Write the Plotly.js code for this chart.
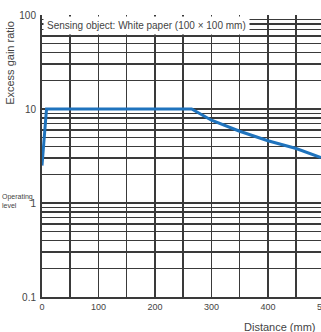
<!DOCTYPE html>
<html><head><meta charset="utf-8">
<script src="https://cdn.plot.ly/plotly-3.0.1.min.js"></script>
<style>html,body{margin:0;padding:0;background:#fff;overflow:hidden}</style>
</head><body>
<div id="chart" style="width:321px;height:332px"></div>
<script>
// Data
const distance = [0, 8, 265, 300, 350, 400, 450, 494];
const gainRatio = [2.5, 10, 10, 7.6, 5.8, 4.6, 3.8, 3.05];

const xTickVals = [0, 50, 100, 150, 200, 250, 300, 350, 400, 450, 500];
const xTickText = ['0', '', '100', '', '200', '', '300', '', '400', '', '500'];

const yTickVals = [0.1,0.2,0.3,0.4,0.5,0.6,0.7,0.8,0.9,
                   1,2,3,4,5,6,7,8,9,
                   10,20,30,40,50,60,70,80,90,100];
const yTickText = ['0.1','','','','','','','','',
                   '1','','','','','','','','',
                   '10','','','','','','','','',
                   '100'];

const xMax = 494;
const gridColor = '#3a3a3a';
const textColor = '#444';

const trace = {
  x: distance, y: gainRatio, type: 'scatter', mode: 'lines',
  line: {color: '#1f73bd', width: 3},
  hoverinfo: 'skip'
};

const layout = {
  width: 321, height: 332,
  margin: {l: 42, r: 0, t: 15, b: 35},
  paper_bgcolor: '#fff', plot_bgcolor: '#fff',
  showlegend: false,
  font: {family: 'Liberation Sans, Arial, sans-serif', color: textColor, size: 10},
  xaxis: {
    range: [0, xMax], tickvals: xTickVals, ticktext: xTickText,
    showgrid: true, gridcolor: gridColor, gridwidth: 1.5,
    zeroline: false, showline: true, linecolor: gridColor, linewidth: 2,
    ticks: '', tickfont: {size: 9, color: textColor}, fixedrange: true
  },
  yaxis: {
    type: 'log', range: [-1, 2], tickvals: yTickVals, ticktext: yTickText,
    showgrid: true, gridcolor: gridColor, gridwidth: 1.5,
    zeroline: false, showline: true, linecolor: gridColor, linewidth: 2,
    ticks: '', ticklabelstandoff: 2, tickfont: {size: 10, color: textColor}, fixedrange: true
  },
  annotations: [
    {text: 'Sensing object: White paper (100 × 100 mm)', xref: 'paper', yref: 'paper',
     x: 0.005, y: 0.998, xanchor: 'left', yanchor: 'top', showarrow: false,
     bgcolor: '#fff', borderpad: 3, font: {size: 10, color: textColor}},
    {text: xTickText[10], xref: 'paper', yref: 'paper',
     x: xTickVals[10] / xMax, y: -0.012, xanchor: 'center', yanchor: 'top',
     showarrow: false, font: {size: 9, color: textColor}},
    {text: 'Excess gain ratio', xref: 'paper', yref: 'paper',
     x: -0.115, y: 0.83, textangle: -90, xanchor: 'center', yanchor: 'middle',
     showarrow: false, font: {size: 11, color: textColor}},
    {text: 'Operating<br>level', xref: 'paper', yref: 'paper',
     x: -0.15, y: 0.34, xanchor: 'left', yanchor: 'middle', align: 'left',
     showarrow: false, font: {size: 7, color: textColor}},
    {text: 'Distance (mm)', xref: 'paper', yref: 'paper',
     x: 0.717, y: -0.105, xanchor: 'left', yanchor: 'middle',
     showarrow: false, font: {size: 11, color: textColor}}
  ]
};

Plotly.newPlot('chart', [trace], layout, {staticPlot: true, displayModeBar: false});
</script>
</body></html>
